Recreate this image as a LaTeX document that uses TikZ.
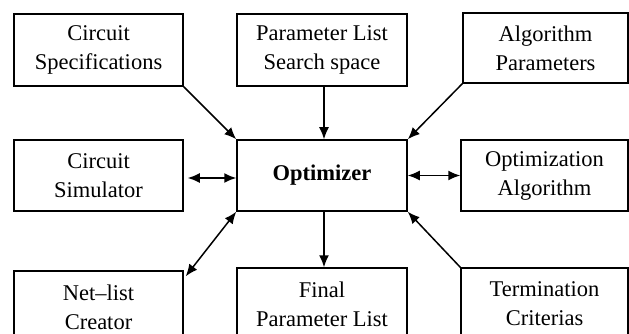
\documentclass[tikz,border=0pt]{standalone}
\usepackage{fontspec}
\setmainfont{Liberation Serif}
\usetikzlibrary{arrows.meta}
\begin{document}
\begin{tikzpicture}[x=1pt,y=-1pt,
  blk/.style={draw, line width=1.5pt, minimum width=169pt, minimum height=72pt, inner sep=0pt, align=center, font=\fontsize{22.5}{29}\selectfont},
  conn/.style={line width=1.5pt, -{Latex[length=12pt,width=10pt]}},
  bconn/.style={line width=1.5pt, {Latex[length=12pt,width=10pt]}-{Latex[length=12pt,width=10pt]}}]
\useasboundingbox (0,0) rectangle (629,334);
\clip (0,0) rectangle (629,334);
\node[blk] (cs) at (98.5,50) {Circuit\\Specifications};
\node[blk, minimum width=170pt] (pl) at (322,50) {Parameter List\\Search space};
\node[blk, minimum width=165pt, minimum height=70pt] (ap) at (545.5,48) {Algorithm\\Parameters};
\node[blk, minimum height=71pt] (sim) at (98.5,175.5) {Circuit\\Simulator};
\node[blk, minimum width=170pt, minimum height=71pt, font=\fontsize{22.5}{29}\selectfont\bfseries] (opt) at (322,175.5) {Optimizer};
\node[blk, minimum width=167pt, minimum height=71pt] (oa) at (544.5,175.5) {Optimization\\Algorithm};
\node[blk] (nc) at (98.5,307) {Net{\textendash}list\\Creator};
\node[blk, minimum width=170pt] (fp) at (322,304) {Final\\Parameter List};
\node[blk, minimum width=167pt] (tc) at (544.5,304) {Termination\\Criterias};
\draw[conn] (cs.south east) -- (opt.north west);
\draw[conn] ([xshift=2pt]pl.south) -- ([xshift=2pt]opt.north);
\draw[conn] (ap.south west) -- (opt.north east);
\draw[bconn, shorten <=4pt] ([yshift=-2.5pt]sim.east) -- ([yshift=-2.5pt]opt.west);
\draw[bconn] (opt.east) -- (oa.east -| oa.west);
\draw[bconn] ([shift={(2pt,-6pt)}]nc.north east) -- (opt.south west);
\draw[conn] ([xshift=2pt]opt.south) -- ([xshift=2pt]fp.north);
\draw[conn] (tc.north west) -- (opt.south east);
\end{tikzpicture}
\end{document}
